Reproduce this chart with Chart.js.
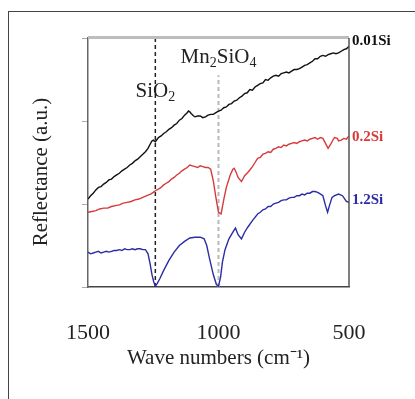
<!DOCTYPE html>
<html>
<head>
<meta charset="utf-8">
<script src="https://cdn.jsdelivr.net/npm/chart.js@4.4.1/dist/chart.umd.min.js"></script>
<style>
  html, body { margin: 0; padding: 0; background: #fff; }
  #wrap { position: relative; width: 415px; height: 399px; }
  #frame { position: absolute; left: 8px; top: 11px; right: 0; bottom: 0;
           border-left: 1px solid #444; border-top: 1px solid #444; pointer-events: none; }
</style>
</head>
<body>
<div id="wrap">
  <canvas id="irChart" width="415" height="399"></canvas>
  <div id="frame"></div>
</div>
<script>
// 0.01Si spectrum
const si001Wave = [1500, 1490, 1480, 1470, 1460, 1450, 1440, 1430, 1420, 1410, 1400, 1390, 1380, 1370, 1360, 1350, 1340, 1330, 1320, 1310, 1300, 1290, 1280, 1270, 1262, 1255, 1250, 1242, 1235, 1230, 1220, 1210, 1200, 1190, 1180, 1170, 1160, 1150, 1140, 1130, 1120, 1115, 1110, 1105, 1095, 1090, 1080, 1070, 1060, 1050, 1040, 1030, 1020, 1010,
  1000, 990, 980, 970, 960, 950, 940, 930, 920, 910, 900, 890, 880, 870, 860, 850, 840, 830, 820, 810, 800, 790, 780, 770, 760, 750, 740, 730, 720, 710, 700, 690, 680, 670, 660, 650, 640, 630, 620, 610, 600, 590, 580, 570, 560, 550, 540, 530, 520, 510, 500];
const si001Refl = [1.06, 1.10, 1.13, 1.17, 1.20, 1.21, 1.24, 1.26, 1.29, 1.30, 1.33, 1.35, 1.37, 1.40, 1.42, 1.44, 1.47, 1.49, 1.52, 1.54, 1.57, 1.60, 1.63, 1.67, 1.72, 1.76, 1.77, 1.75, 1.78, 1.80, 1.82, 1.85, 1.87, 1.90, 1.92, 1.95, 1.97, 2.01, 2.03, 2.07, 2.10, 2.12, 2.11, 2.09, 2.06, 2.05, 2.06, 2.06, 2.04, 2.05, 2.07, 2.08, 2.08, 2.10,
  2.12, 2.13, 2.16, 2.17, 2.20, 2.21, 2.24, 2.25, 2.28, 2.30, 2.33, 2.34, 2.38, 2.37, 2.41, 2.43, 2.45, 2.46, 2.50, 2.49, 2.52, 2.54, 2.55, 2.54, 2.57, 2.58, 2.59, 2.58, 2.60, 2.62, 2.62, 2.63, 2.65, 2.67, 2.68, 2.70, 2.72, 2.75, 2.75, 2.78, 2.79, 2.78, 2.80, 2.81, 2.82, 2.81, 2.82, 2.84, 2.86, 2.87, 2.90];

// 0.2Si spectrum
const si02Wave = [1500, 1485, 1470, 1455, 1440, 1425, 1410, 1395, 1380, 1365, 1350, 1335, 1320, 1305, 1290, 1275, 1260, 1250, 1242, 1230, 1220, 1210, 1200, 1190, 1180, 1170, 1160, 1150, 1140, 1130, 1120, 1110, 1100, 1090, 1080, 1070, 1060, 1050, 1040, 1030, 1020, 1010, 1000, 990, 980, 970, 955, 945, 940, 932, 925, 912, 905, 900, 888, 880,
  870, 860, 850, 840, 830, 820, 810, 800, 790, 780, 770, 760, 750, 740, 730, 720, 710, 700, 690, 680, 670, 660, 650, 640, 630, 620, 610, 600, 595, 585, 580, 570, 560, 555, 545, 540, 530, 520, 510, 500];
const si02Refl = [0.90, 0.91, 0.92, 0.94, 0.95, 0.95, 0.97, 0.98, 0.99, 1.01, 1.02, 1.03, 1.05, 1.06, 1.08, 1.10, 1.12, 1.14, 1.16, 1.18, 1.20, 1.23, 1.25, 1.27, 1.30, 1.32, 1.35, 1.37, 1.40, 1.42, 1.44, 1.47, 1.46, 1.45, 1.44, 1.46, 1.45, 1.44, 1.44, 1.42, 1.28, 1.08, 0.90, 0.88, 1.05, 1.20, 1.35, 1.42, 1.43, 1.38, 1.32, 1.27, 1.31, 1.34, 1.38, 1.41,
  1.45, 1.50, 1.55, 1.56, 1.60, 1.61, 1.63, 1.62, 1.66, 1.67, 1.69, 1.68, 1.71, 1.70, 1.72, 1.73, 1.74, 1.73, 1.75, 1.76, 1.77, 1.76, 1.78, 1.79, 1.80, 1.78, 1.80, 1.79, 1.76, 1.70, 1.67, 1.72, 1.78, 1.80, 1.79, 1.76, 1.77, 1.79, 1.78, 1.82];

// 1.2Si spectrum
const si12Wave = [1500, 1490, 1480, 1470, 1460, 1450, 1440, 1430, 1420, 1410, 1400, 1390, 1380, 1370, 1360, 1350, 1340, 1330, 1320, 1310, 1300, 1290, 1280, 1270, 1262, 1255, 1248, 1242, 1235, 1225, 1210, 1190, 1170, 1150, 1130, 1110, 1090, 1070, 1055, 1045, 1035, 1020, 1008, 1000, 992, 985, 975, 960, 945, 935, 925, 912, 900, 888, 870,
  850, 840, 830, 820, 810, 800, 790, 780, 770, 760, 750, 740, 730, 720, 710, 700, 690, 680, 670, 660, 650, 640, 630, 620, 615, 600, 590, 582, 575, 565, 555, 540, 525, 510, 500];
const si12Refl = [0.42, 0.40, 0.41, 0.42, 0.43, 0.41, 0.42, 0.43, 0.42, 0.43, 0.44, 0.44, 0.45, 0.44, 0.46, 0.45, 0.45, 0.46, 0.45, 0.46, 0.46, 0.45, 0.45, 0.40, 0.28, 0.15, 0.06, 0.01, 0.04, 0.10, 0.20, 0.32, 0.42, 0.50, 0.55, 0.59, 0.60, 0.60, 0.58, 0.50, 0.35, 0.15, 0.03, 0.01, 0.12, 0.30, 0.45, 0.58, 0.66, 0.71, 0.63, 0.58, 0.66, 0.72, 0.80,
  0.88, 0.90, 0.93, 0.94, 0.97, 0.97, 1.00, 1.01, 1.02, 1.04, 1.05, 1.05, 1.07, 1.08, 1.08, 1.10, 1.10, 1.12, 1.11, 1.13, 1.13, 1.15, 1.15, 1.14, 1.13, 1.10, 0.98, 0.90, 0.98, 1.08, 1.10, 1.12, 1.10, 1.03, 1.02];

const seriesNames = ['0.01Si', '0.2Si', '1.2Si'];
const seriesColors = ['#111111', '#d63a3a', '#2c2ca6'];
const labelLevels = [2.96, 1.81, 1.05];

const xTicks = [1500, 1000, 500];
const yTicks = [0, 1, 2, 3];

// reference lines for the two phases
const siO2Wave = 1242;
const mnSiWave = 1000;
const mnSiTop = 2.55;

const toPoints = (xs, ys) => xs.map((x, i) => ({ x: x, y: ys[i] }));

const serif = '"Liberation Serif", "Times New Roman", serif';

// draws text with subscript parts, centred on cx
function drawSubText(ctx, parts, cx, cy, size) {
  const subSize = Math.round(size * 0.66);
  let total = 0;
  parts.forEach(p => {
    ctx.font = (p[1] ? subSize : size) + 'px ' + serif;
    total += ctx.measureText(p[0]).width;
  });
  let x = cx - total / 2;
  ctx.textAlign = 'left';
  ctx.textBaseline = 'middle';
  parts.forEach(p => {
    ctx.font = (p[1] ? subSize : size) + 'px ' + serif;
    ctx.fillText(p[0], x, p[1] ? cy + size * 0.27 : cy);
    x += ctx.measureText(p[0]).width;
  });
}

const decorPlugin = {
  id: 'decor',
  afterDatasetsDraw(chart) {
    const { ctx, chartArea: a, scales } = chart;
    const xs = scales.x, ys = scales.y;
    ctx.save();
    // top and right frame
    ctx.strokeStyle = '#bdbdbd';
    ctx.lineWidth = 3;
    ctx.beginPath();
    ctx.moveTo(a.left, a.top - 0.5);
    ctx.lineTo(a.right, a.top - 0.5);
    ctx.stroke();
    ctx.strokeStyle = '#555';
    ctx.lineWidth = 1.5;
    ctx.beginPath();
    ctx.moveTo(a.right, a.top);
    ctx.lineTo(a.right, a.bottom);
    ctx.stroke();

    // series labels at the right edge
    ctx.font = 'bold 15px ' + serif;
    ctx.textAlign = 'left';
    ctx.textBaseline = 'middle';
    seriesNames.forEach((name, i) => {
      ctx.fillStyle = seriesColors[i];
      ctx.fillText(name, a.right + 3, ys.getPixelForValue(labelLevels[i]));
    });

    // phase annotations
    ctx.fillStyle = '#222';
    drawSubText(ctx, [['SiO', false], ['2', true]], xs.getPixelForValue(siO2Wave), ys.getPixelForValue(2.35), 21);
    drawSubText(ctx, [['Mn', false], ['2', true], ['SiO', false], ['4', true]], xs.getPixelForValue(mnSiWave), ys.getPixelForValue(2.76), 21);

    // y axis title
    ctx.translate(41, 172);
    ctx.rotate(-Math.PI / 2);
    ctx.font = '21px ' + serif;
    ctx.textAlign = 'center';
    ctx.fillText('Reflectance (a.u.)', 0, 0);
    ctx.restore();
  }
};

const ctx = document.getElementById('irChart').getContext('2d');
new Chart(ctx, {
  type: 'line',
  data: {
    datasets: [
      { label: seriesNames[0], data: toPoints(si001Wave, si001Refl), borderColor: seriesColors[0], borderWidth: 1.4, order: 1 },
      { label: seriesNames[1], data: toPoints(si02Wave, si02Refl), borderColor: seriesColors[1], borderWidth: 1.4, order: 1 },
      { label: seriesNames[2], data: toPoints(si12Wave, si12Refl), borderColor: seriesColors[2], borderWidth: 1.4, order: 1 },
      { label: 'SiO2', data: [{ x: siO2Wave, y: 0 }, { x: siO2Wave, y: 3 }], borderColor: '#222', borderWidth: 1.5, borderDash: [4, 3], order: 5 },
      { label: 'Mn2SiO4', data: [{ x: mnSiWave, y: 0 }, { x: mnSiWave, y: mnSiTop }], borderColor: '#b8b8b8', borderWidth: 2, borderDash: [4, 3], order: 5 }
    ]
  },
  options: {
    responsive: false,
    animation: false,
    layout: { padding: { top: 38, right: 66, left: 0, bottom: 0 } },
    elements: { point: { radius: 0 }, line: { tension: 0, fill: false } },
    plugins: { legend: { display: false }, tooltip: { enabled: false } },
    scales: {
      x: {
        type: 'linear',
        reverse: true,
        min: 500,
        max: 1500,
        afterBuildTicks: s => { s.ticks = xTicks.map(v => ({ value: v })); },
        afterFit: s => { s.height = 112; },
        grid: { display: false },
        border: { color: '#444', width: 1.5 },
        ticks: { color: '#222', padding: 25, maxRotation: 0, font: { family: serif, size: 22 }, callback: v => String(v) },
        title: { display: true, text: 'Wave numbers (cm⁻¹)', color: '#222', padding: { top: 0, bottom: 28 }, font: { family: serif, size: 21 } }
      },
      y: {
        min: 0,
        max: 3,
        afterBuildTicks: s => { s.ticks = yTicks.map(v => ({ value: v })); },
        afterFit: s => { s.width = 88; },
        grid: { drawOnChartArea: false, drawTicks: true, tickLength: 6, color: '#aaa' },
        border: { color: '#666', width: 1.5 },
        ticks: { display: false }
      }
    }
  },
  plugins: [decorPlugin]
});
</script>
</body>
</html>
